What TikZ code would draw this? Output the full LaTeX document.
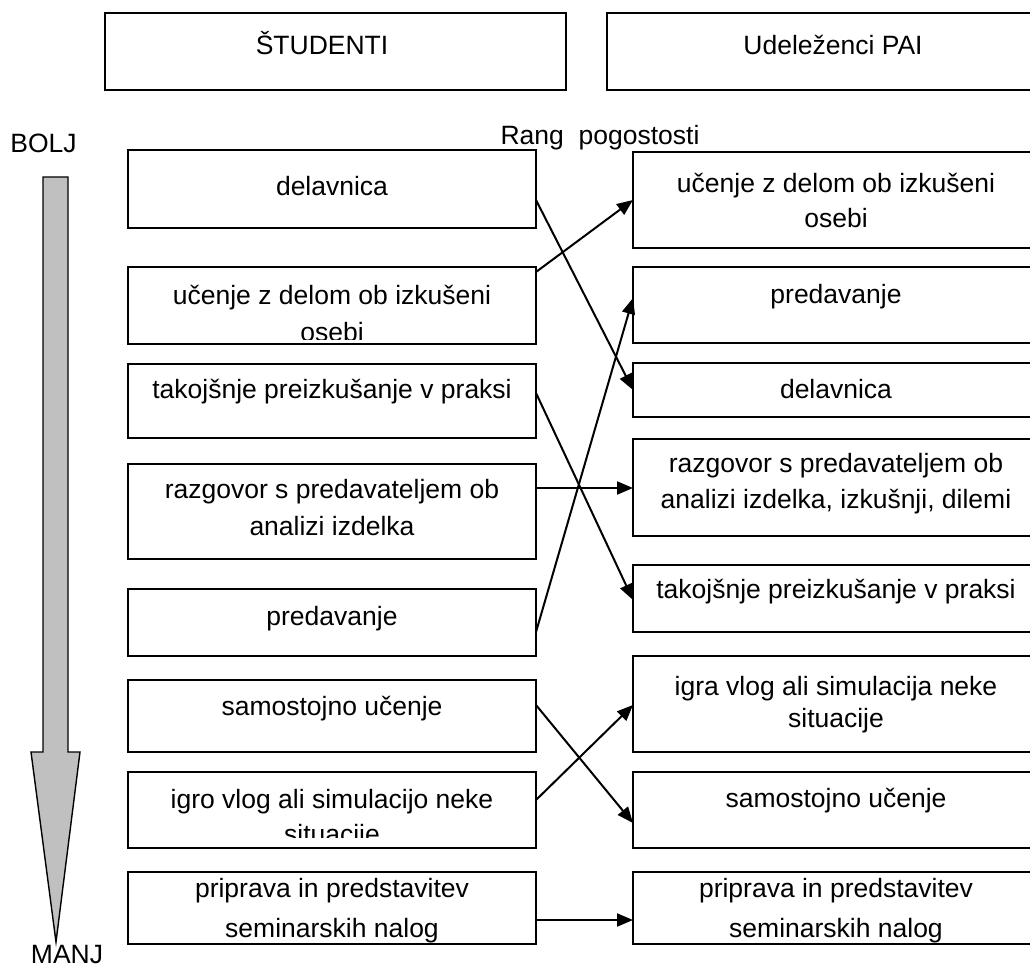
\documentclass[tikz,border=0pt]{standalone}
\usepackage{fontspec}
\setmainfont{Liberation Sans}
\usetikzlibrary{arrows.meta}
\begin{document}
\begin{tikzpicture}[x=1pt,y=-1pt,
  box/.style={draw,line width=1.6pt,inner sep=0pt,outer sep=0pt,anchor=north west},
  txt/.style={inner sep=0pt,outer sep=0pt,anchor=base,font=\fontsize{26.5}{31}\selectfont},
  conn/.style={line width=2pt,-{Triangle[length=16pt,width=13pt]}}]
\useasboundingbox (0,0) rectangle (1030,968);
% header boxes
\node[box,minimum width=461pt,minimum height=77pt] (H1) at (105,13) {};
\node[box,minimum width=460pt,minimum height=77pt] (H2) at (607,13) {};
\node[txt] (H1t) at (322,55) {ŠTUDENTI};
\node[txt] (H2t) at (833,55) {Udeleženci PAI};
\node[txt] (rang) at (600,145) {Rang\ \ pogostosti};
\node[txt] (bolj) at (43.5,153) {BOLJ};
\node[txt] (manj) at (67,963) {MANJ};
% big arrow
\draw[line width=1.4pt,fill={rgb,255:red,192;green,192;blue,192}]
  (43,177) -- (68,177) -- (68,752) -- (80,752) -- (56,942) -- (31,752) -- (43,752) -- cycle;
% left boxes
\node[box,minimum width=408pt,minimum height=78pt] (L1) at (128,150) {};
\node[box,minimum width=408pt,minimum height=77pt] (L2) at (128,267) {};
\node[box,minimum width=408pt,minimum height=74pt] (L3) at (128,364) {};
\node[box,minimum width=408pt,minimum height=95pt] (L4) at (128,464) {};
\node[box,minimum width=408pt,minimum height=67pt] (L5) at (128,589) {};
\node[box,minimum width=408pt,minimum height=72pt] (L6) at (128,680) {};
\node[box,minimum width=408pt,minimum height=76pt] (L7) at (128,772) {};
\node[box,minimum width=408pt,minimum height=72pt] (L8) at (128,872) {};
% right boxes
\node[box,minimum width=408pt,minimum height=96pt] (R1) at (633,152) {};
\node[box,minimum width=408pt,minimum height=76pt] (R2) at (633,267) {};
\node[box,minimum width=408pt,minimum height=54pt] (R3) at (633,363) {};
\node[box,minimum width=408pt,minimum height=97pt] (R4) at (633,439) {};
\node[box,minimum width=408pt,minimum height=67pt] (R5) at (633,565) {};
\node[box,minimum width=408pt,minimum height=96pt] (R6) at (633,656) {};
\node[box,minimum width=408pt,minimum height=76pt] (R7) at (633,772) {};
\node[box,minimum width=408pt,minimum height=72pt] (R8) at (633,872) {};
% left texts
\node[txt] (L1t) at (332,196) {delavnica};
\begin{scope}
\clip (129,268) rectangle (535,339);
\node[txt] (L2t) at (332,304) {učenje z delom ob izkušeni};
\node[txt] (L2u) at (332,341) {osebi};
\end{scope}
\node[txt] (L3t) at (332,398) {takojšnje preizkušanje v praksi};
\node[txt] (L4t) at (332,498) {razgovor s predavateljem ob};
\node[txt] (L4u) at (332,535) {analizi izdelka};
\node[txt] (L5t) at (332,625) {predavanje};
\node[txt] (L6t) at (332,715) {samostojno učenje};
\begin{scope}
\clip (129,773) rectangle (535,837);
\node[txt] (L7t) at (332,808) {igro vlog ali simulacijo neke};
\node[txt] (L7u) at (332,843) {situacije};
\end{scope}
\node[txt] (L8t) at (332,897) {priprava in predstavitev};
\node[txt] (L8u) at (332,937) {seminarskih nalog};
% right texts
\node[txt] (R1t) at (836,193) {učenje z delom ob izkušeni};
\node[txt] (R1u) at (836,228) {osebi};
\node[txt] (R2t) at (836,303) {predavanje};
\node[txt] (R3t) at (836,398) {delavnica};
\node[txt] (R4t) at (836,472) {razgovor s predavateljem ob};
\node[txt] (R4u) at (836,508) {analizi izdelka, izkušnji, dilemi};
\node[txt] (R5t) at (836,598) {takojšnje preizkušanje v praksi};
\node[txt] (R6t) at (836,695) {igra vlog ali simulacija neke};
\node[txt] (R6u) at (836,727) {situacije};
\node[txt] (R7t) at (836,807) {samostojno učenje};
\node[txt] (R8t) at (836,897) {priprava in predstavitev};
\node[txt] (R8u) at (836,937) {seminarskih nalog};
% connectors
\draw[conn] ([yshift=-11pt]L1.east) -- (R3.west);
\draw[conn] ([yshift=33.5pt]L2.east) -- (R1.west);
\draw[conn] ([yshift=8pt]L3.east) -- ([yshift=-1.5pt]R5.west);
\draw[conn] ([yshift=23.5pt]L4.east) -- ([yshift=-0.5pt]R4.west);
\draw[conn] ([yshift=-9.5pt]L5.east) -- ([yshift=7pt]R2.west);
\draw[conn] ([yshift=11pt]L6.east) -- ([yshift=-13pt]R7.west);
\draw[conn] ([yshift=10pt]L7.east) -- ([yshift=-1pt]R6.west);
\draw[conn] ([yshift=-12pt]L8.east) -- ([yshift=-12pt]R8.west);
\end{tikzpicture}
\end{document}
